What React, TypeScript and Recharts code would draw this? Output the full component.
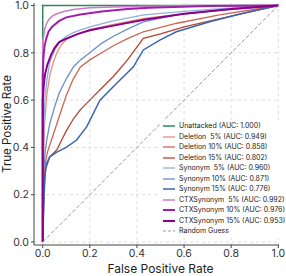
import React from 'react';
import { LineChart, Line, XAxis, YAxis, CartesianGrid } from 'recharts';

type Pt = { fpr: number; tpr: number };
const p = (pairs: number[][]): Pt[] => pairs.map(([fpr, tpr]) => ({ fpr, tpr }));

const unattacked = p([[0, 0], [0, 1], [1, 1]]);
const deletion5 = p([[0, 0], [0.002, 0.3], [0.008, 0.5], [0.017, 0.62], [0.031, 0.71], [0.045, 0.76], [0.06, 0.8], [0.08, 0.835], [0.1, 0.855], [0.13, 0.872], [0.17, 0.888], [0.22, 0.903], [0.3, 0.92], [0.43, 0.945], [0.6, 0.965], [0.8, 0.985], [1, 1]]);
const deletion10 = p([[0, 0], [0.005, 0.25], [0.01, 0.33], [0.02, 0.38], [0.04, 0.44], [0.06, 0.5], [0.08, 0.56], [0.1, 0.62], [0.13, 0.69], [0.16, 0.74], [0.2, 0.77], [0.25, 0.8], [0.3, 0.83], [0.36, 0.86], [0.427, 0.889], [0.57, 0.925], [0.75, 0.96], [1, 1]]);
const deletion15 = p([[0, 0], [0.005, 0.2], [0.01, 0.3], [0.03, 0.36], [0.06, 0.39], [0.08, 0.43], [0.1, 0.47], [0.13, 0.52], [0.16, 0.56], [0.2, 0.6], [0.25, 0.65], [0.3, 0.7], [0.36, 0.77], [0.427, 0.861], [0.5, 0.88], [0.6, 0.91], [0.8, 0.955], [1, 1]]);
const synonym5 = p([[0, 0], [0, 0.3], [0.005, 0.5], [0.01, 0.62], [0.02, 0.7], [0.03, 0.76], [0.05, 0.81], [0.07, 0.845], [0.1, 0.87], [0.13, 0.885], [0.17, 0.9], [0.22, 0.915], [0.3, 0.935], [0.43, 0.96], [0.6, 0.975], [0.8, 0.99], [1, 1]]);
const synonym10 = p([[0, 0], [0.004, 0.3], [0.01, 0.38], [0.017, 0.431], [0.03, 0.5], [0.05, 0.57], [0.07, 0.63], [0.1, 0.69], [0.13, 0.74], [0.16, 0.77], [0.2, 0.8], [0.25, 0.84], [0.3, 0.87], [0.36, 0.9], [0.427, 0.931], [0.567, 0.96], [0.75, 0.98], [1, 1]]);
const synonym15 = p([[0, 0], [0.003, 0.1], [0.006, 0.2], [0.01, 0.28], [0.015, 0.33], [0.03, 0.36], [0.06, 0.38], [0.1, 0.4], [0.144, 0.431], [0.187, 0.488], [0.243, 0.6], [0.314, 0.671], [0.385, 0.741], [0.427, 0.812], [0.497, 0.854], [0.567, 0.889], [0.709, 0.931], [0.85, 0.967], [1, 1]]);
const ctx5 = p([[0, 0], [0, 0.85], [0.004, 0.87], [0.008, 0.9], [0.015, 0.92], [0.025, 0.94], [0.04, 0.955], [0.06, 0.965], [0.09, 0.975], [0.13, 0.983], [0.2, 0.99], [0.3, 0.994], [0.45, 0.997], [0.65, 1], [1, 1]]);
const ctx10 = p([[0, 0], [0, 0.7], [0.003, 0.78], [0.008, 0.83], [0.015, 0.86], [0.025, 0.89], [0.04, 0.91], [0.07, 0.935], [0.1, 0.95], [0.16, 0.962], [0.25, 0.975], [0.36, 0.985], [0.45, 0.99], [0.7, 0.998], [1, 1]]);
const ctx15 = p([[0, 0], [0, 0.6], [0.005, 0.67], [0.01, 0.71], [0.02, 0.75], [0.035, 0.79], [0.05, 0.82], [0.07, 0.845], [0.1, 0.86], [0.15, 0.88], [0.2, 0.895], [0.3, 0.915], [0.43, 0.94], [0.6, 0.965], [0.8, 0.985], [1, 1]]);
const randomGuess = p([[0, 0], [1, 1]]);

const ticks = [0, 0.2, 0.4, 0.6, 0.8, 1.0];

const series = [
  { name: 'Unattacked (AUC: 1.000)', data: unattacked, color: '#2e8b57', width: 1.5 },
  { name: 'Deletion  5% (AUC: 0.949)', data: deletion5, color: '#e0907e', width: 1.3 },
  { name: 'Deletion 10% (AUC: 0.858)', data: deletion10, color: '#cc6652', width: 1.3 },
  { name: 'Deletion 15% (AUC: 0.802)', data: deletion15, color: '#b8442f', width: 1.3 },
  { name: 'Synonym  5% (AUC: 0.960)', data: synonym5, color: '#8eb0de', width: 1.3 },
  { name: 'Synonym 10% (AUC: 0.871)', data: synonym10, color: '#6a8fcc', width: 1.3 },
  { name: 'Synonym 15% (AUC: 0.776)', data: synonym15, color: '#3a66b2', width: 1.5 },
  { name: 'CTXSynonym  5% (AUC: 0.992)', data: ctx5, color: '#c77dcc', width: 1.5 },
  { name: 'CTXSynonym 10% (AUC: 0.976)', data: ctx10, color: '#a020a8', width: 2 },
  { name: 'CTXSynonym 15% (AUC: 0.953)', data: ctx15, color: '#8b008b', width: 2 },
];

const font = 'Inter, "DejaVu Sans", sans-serif';

const LegendBox = () => (
  <div style={{ position: 'absolute', left: 160, top: 120, background: 'rgba(255,255,255,0.9)', padding: '1px 3px 1px 2px', fontFamily: font, fontSize: 7, color: '#222', lineHeight: '10.5px' }}>
    {series.map((s) => (
      <div key={s.name} style={{ display: 'flex', alignItems: 'center', height: 10.5 }}>
        <svg width={14} height={6} style={{ marginRight: 3 }}>
          <line x1={1} y1={3} x2={13} y2={3} stroke={s.color} strokeWidth={s.width} />
        </svg>
        <span style={{ whiteSpace: 'pre' }}>{s.name}</span>
      </div>
    ))}
    <div style={{ display: 'flex', alignItems: 'center', height: 10.5 }}>
      <svg width={14} height={6} style={{ marginRight: 3 }}>
        <line x1={1} y1={3} x2={13} y2={3} stroke="#999" strokeWidth={1} strokeDasharray="3 2" />
      </svg>
      <span>Random Guess</span>
    </div>
  </div>
);

export default function App() {
  return (
    <div style={{ position: 'fixed', left: 0, top: 0, width: 286, height: 276, background: '#fff' }}>
      <LineChart width={286} height={276} margin={{ top: 3, right: 7, bottom: 0, left: 0 }}>
        <CartesianGrid stroke="#dddddd" strokeDasharray="3 3" horizontalValues={ticks} verticalValues={ticks} />
        <XAxis
          dataKey="fpr"
          type="number"
          domain={[-0.037, 1.003]}
          allowDataOverflow
          ticks={ticks}
          tickFormatter={(v: number) => v.toFixed(1)}
          height={31}
          tickSize={3}
          stroke="#444"
          tick={{ fill: '#333', fontSize: 10.5, fontFamily: font }}
          label={{ value: 'False Positive Rate', position: 'insideBottom', offset: 3, dx: 4, fill: '#222', fontSize: 12, fontFamily: font }}
        />
        <YAxis
          type="number"
          domain={[-0.0127, 1.0106]}
          allowDataOverflow
          ticks={ticks}
          tickFormatter={(v: number) => v.toFixed(1)}
          width={34}
          tickSize={3}
          stroke="#444"
          tick={{ fill: '#333', fontSize: 10.5, fontFamily: font }}
          label={{ value: 'True Positive Rate', angle: -90, position: 'insideLeft', offset: 0, dx: 7, dy: 0, fill: '#222', fontSize: 11.5, fontFamily: font, style: { textAnchor: 'middle' } }}
        />
        {series.map((s) => (
          <Line
            key={s.name}
            data={s.data}
            dataKey="tpr"
            name={s.name}
            stroke={s.color}
            strokeWidth={s.width}
            dot={false}
            isAnimationActive={false}
          />
        ))}
        <Line data={randomGuess} dataKey="tpr" name="Random Guess" stroke="#999" strokeWidth={1} strokeDasharray="4 2" dot={false} isAnimationActive={false} />
      </LineChart>
      <LegendBox />
    </div>
  );
}
